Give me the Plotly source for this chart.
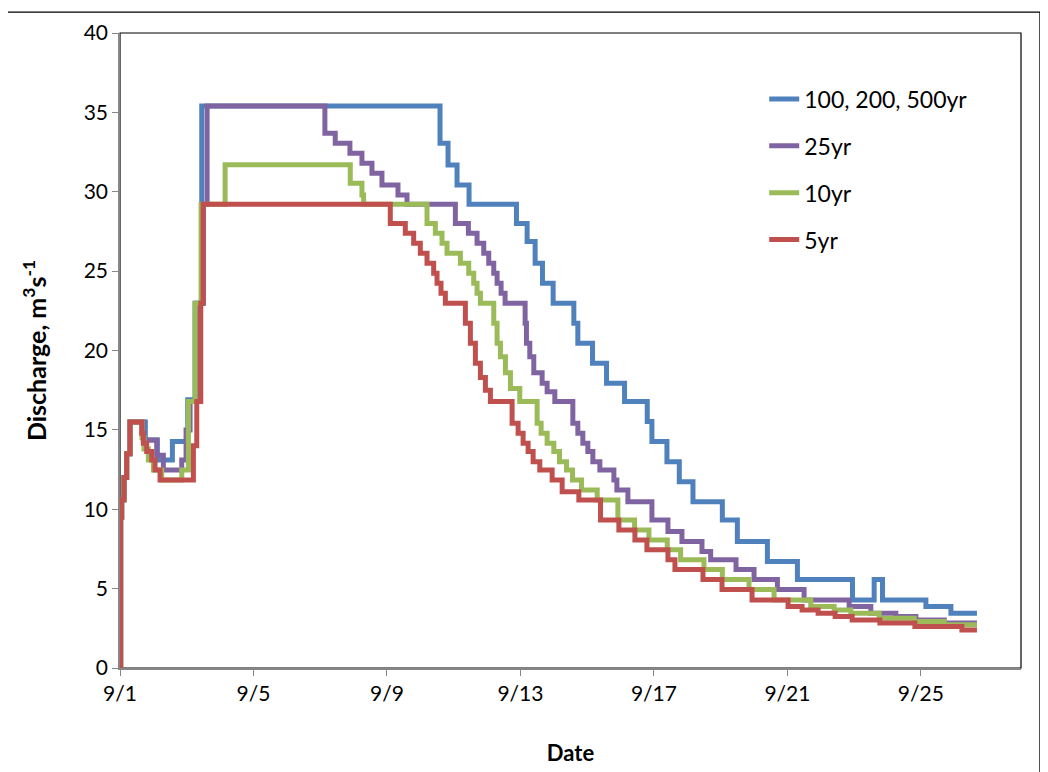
import pandas as pd
import plotly.graph_objects as go

# ---- data: step breakpoints (days after 9/1 00:00, discharge m3/s) ----
base_date = "2012-09-01"

t_500 = [0, 0.02, 0.05, 0.12, 0.2, 0.3, 0.76, 1.12, 1.57, 2.03, 2.25, 2.45,
         9.59, 9.83, 10.1, 10.46, 11.88, 12.2, 12.44, 12.66, 12.98, 13.6, 13.72,
         14.16, 14.58, 15.12, 15.8, 15.94, 16.39, 16.76, 17.17, 18.05, 18.5,
         19.4, 20.3, 21.95, 22.6, 22.85, 24.15, 24.9, 25.68]
q_500 = [0, 9.5, 10.6, 12.0, 13.5, 15.5, 14.37, 13.11, 14.26, 16.9, 22.98, 35.4,
         33.05, 31.69, 30.43, 29.21, 28.0, 26.86, 25.5, 24.24, 22.98, 21.72, 20.46,
         19.2, 17.94, 16.78, 15.52, 14.26, 13.0, 11.74, 10.48, 9.33, 7.97,
         6.71, 5.57, 4.29, 5.57, 4.29, 3.87, 3.45, 3.45]

t_25 = [0, 0.02, 0.05, 0.12, 0.2, 0.3, 0.7, 1.1, 1.3, 1.85, 1.98, 2.1, 2.3, 2.5, 2.61,
        6.14, 6.45, 6.89, 7.25, 7.55, 7.85, 8.33, 8.6, 10.05, 10.44, 10.7, 10.9,
        11.05, 11.2, 11.3, 11.42, 11.54, 12.14, 12.18, 12.28, 12.4, 12.65, 12.8,
        13.03, 13.57, 13.72, 13.87, 14.02, 14.17, 14.38, 14.8, 14.89, 15.22,
        15.94, 16.42, 16.84, 17.44, 17.7, 18.46, 19.0, 19.7, 20.5, 21.85, 22.5,
        23.25, 23.85, 24.7, 25.68]
q_25 = [0, 9.5, 10.6, 12.0, 13.5, 15.5, 14.37, 13.4, 12.48, 13.11, 15.0, 16.78, 22.98, 29.21, 35.4,
        33.68, 33.05, 32.42, 31.79, 31.17, 30.43, 29.8, 29.21, 28.0, 27.38, 26.76, 26.13,
        25.5, 24.87, 24.24, 23.61, 22.98, 21.72, 20.46, 19.6, 18.6, 17.94, 17.4,
        16.78, 15.42, 14.79, 14.16, 13.63, 13.0, 12.48, 11.85, 11.22, 10.48,
        9.33, 8.6, 7.97, 7.34, 6.82, 6.2, 5.57, 4.94, 4.29, 3.87, 3.45,
        3.24, 3.03, 2.83, 2.83]

t_10 = [0, 0.02, 0.05, 0.12, 0.2, 0.3, 0.66, 0.72, 0.85, 1.0, 1.25, 1.85, 2.05, 2.25, 2.43, 3.15,
        6.9, 7.25, 7.3, 9.2, 9.45, 9.65, 9.8, 10.2, 10.45, 10.6, 10.7, 10.8, 11.2,
        11.3, 11.4, 11.55, 11.7, 11.98, 12.5, 12.62, 12.8, 13.0, 13.17, 13.38,
        13.56, 13.83, 14.3, 14.92, 15.42, 15.85, 16.4, 16.8, 17.5, 18.05, 18.85,
        19.6, 20.7, 21.4, 21.9, 22.75, 23.8, 24.7, 25.68]
q_10 = [0, 9.5, 10.6, 12.0, 13.5, 15.5, 14.5, 13.8, 13.11, 12.48, 11.85, 12.48, 16.78, 22.98, 29.21, 31.7,
        30.53, 29.8, 29.21, 28.0, 27.38, 26.76, 26.13, 25.5, 24.87, 24.24, 23.61, 22.98, 21.72,
        20.46, 19.6, 18.6, 17.6, 16.78, 15.42, 14.79, 14.16, 13.63, 13.0, 12.48,
        11.85, 11.22, 10.59, 9.33, 8.7, 8.07, 7.45, 6.82, 6.2, 5.57, 4.94,
        4.29, 3.87, 3.66, 3.45, 3.14, 2.93, 2.72, 2.72]

t_5 = [0, 0.02, 0.05, 0.12, 0.2, 0.3, 0.65, 0.7, 0.8, 0.95, 1.05, 1.2, 2.2, 2.3, 2.42, 2.49,
       8.1, 8.55, 8.8, 9.0, 9.2, 9.4, 9.5, 9.62, 9.75, 10.35, 10.5, 10.65, 10.8,
       10.95, 11.1, 11.75, 11.93, 12.08, 12.23, 12.38, 12.58, 12.95, 13.25,
       13.75, 14.4, 14.95, 15.43, 15.79, 16.42, 16.63, 17.47, 18.04, 18.94,
       20.02, 20.44, 20.92, 21.43, 21.94, 22.77, 23.82, 25.23, 25.68]
q_5 = [0, 9.5, 10.6, 12.0, 13.5, 15.5, 14.79, 14.16, 13.63, 13.11, 12.48, 11.85, 14.0, 16.78, 22.98, 29.21,
       28.0, 27.38, 26.76, 26.13, 25.5, 24.87, 24.24, 23.61, 22.98, 21.72, 20.46, 19.2, 18.3,
       17.5, 16.78, 15.42, 14.79, 14.16, 13.63, 13.0, 12.48, 11.85, 11.11,
       10.59, 9.33, 8.7, 8.07, 7.45, 6.82, 6.2, 5.57, 4.94, 4.29,
       3.87, 3.66, 3.45, 3.24, 3.03, 2.83, 2.61, 2.40, 2.40]

series_names = ["100, 200, 500yr", "25yr", "10yr", "5yr"]
series_colors = ["#4F81BD", "#8064A2", "#9BBB59", "#C0504D"]
series_t = [t_500, t_25, t_10, t_5]
series_q = [q_500, q_25, q_10, q_5]

x_range = ["2012-09-01", "2012-09-28"]
y_ticks = [0, 5, 10, 15, 20, 25, 30, 35, 40]

FONT = "Lato, 'Open Sans', sans-serif"

base = pd.Timestamp(base_date)
fig = go.Figure()
for i, (name, col, tt, qq) in enumerate(zip(series_names, series_colors, series_t, series_q)):
    xs = base + pd.to_timedelta(pd.Series(tt), unit="D")
    fig.add_trace(go.Scatter(
        x=xs, y=qq, mode="lines", name=name, legendgroup=str(i),
        line=dict(color=col, width=5, shape="hv"),
    ))

fig.update_layout(
    width=1048, height=772,
    margin=dict(l=112, r=35, t=25, b=112),
    paper_bgcolor="white", plot_bgcolor="white",
    font=dict(family=FONT, size=21, color="black"),
    showlegend=True,
    legend=dict(x=0.715, y=0.93, xanchor="left", yanchor="top",
                font=dict(size=23, family=FONT), tracegroupgap=14,
                bgcolor="rgba(0,0,0,0)", traceorder="grouped"),
    shapes=[
        dict(type="rect", xref="paper", yref="paper", x0=0, x1=1, y0=0, y1=1,
             line=dict(color="#000000", width=1.2), layer="below"),
        dict(type="rect", xref="paper", yref="paper", x0=-0.1265, x1=1.021, y0=-0.3, y1=1.033,
             line=dict(color="#000000", width=1.2), layer="below"),
    ],
)
fig.update_xaxes(
    type="date", range=x_range, tick0="2012-09-01", dtick=4 * 86400000,
    tickformat="%-m/%-d", ticks="outside", ticklen=6, tickcolor="#868686",
    showline=True, linecolor="#868686", linewidth=1.5, showgrid=False, zeroline=False,
    tickfont=dict(size=21, family=FONT),
    title=dict(text="<b>Date</b>", font=dict(size=22, family=FONT), standoff=42),
)
fig.update_yaxes(
    range=[0, 40], tickvals=y_ticks, ticks="outside", ticklen=6, tickcolor="#868686",
    showline=True, linecolor="#868686", linewidth=1.5, showgrid=False, zeroline=False,
    tickfont=dict(size=21, family=FONT),
    title=dict(text="<b>Discharge, m<sup>3</sup>s<sup>-1</sup></b>", font=dict(size=25, family=FONT), standoff=30),
)

fig.write_html("out.html")
